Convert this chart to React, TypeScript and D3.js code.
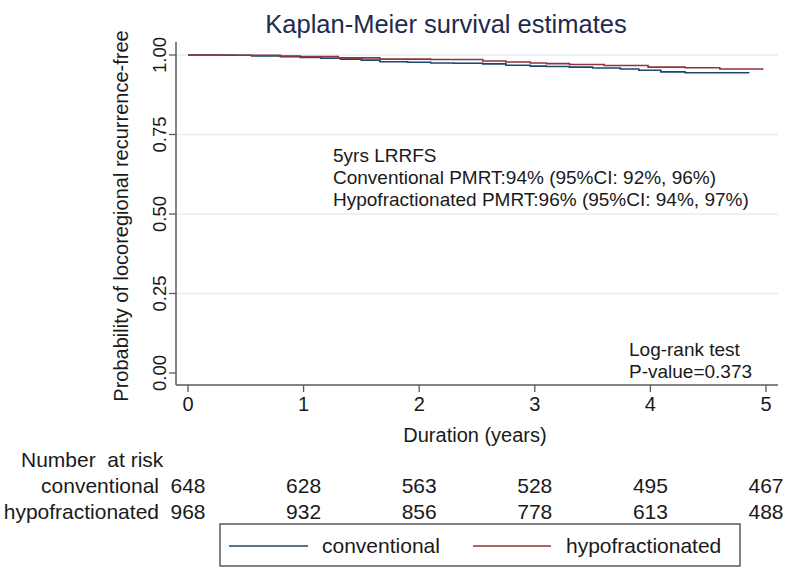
import React from "react";
import * as d3 from "d3";

const convTime = [0, 0.3, 0.55, 0.8, 0.97, 1.15, 1.32, 1.5, 1.66, 1.9, 2.1, 2.3, 2.55, 2.75, 2.96, 3.1, 3.3, 3.5, 3.74, 3.9, 4.09, 4.3, 4.85];
const convSurv = [1.0, 0.999, 0.997, 0.995, 0.992, 0.99, 0.987, 0.984, 0.979, 0.977, 0.975, 0.974, 0.972, 0.968, 0.965, 0.964, 0.962, 0.959, 0.956, 0.952, 0.947, 0.944, 0.943];
const hypoTime = [0, 0.4, 0.8, 0.97, 1.3, 1.66, 2.1, 2.55, 2.75, 2.96, 3.1, 3.3, 3.6, 3.98, 4.3, 4.6, 4.97];
const hypoSurv = [1.0, 0.999, 0.997, 0.995, 0.991, 0.987, 0.986, 0.981, 0.978, 0.975, 0.973, 0.97, 0.967, 0.962, 0.96, 0.956, 0.953];

const xTicks = [0, 1, 2, 3, 4, 5];
const yTicks = [0, 0.25, 0.5, 0.75, 1.0];
const riskConv = [648, 628, 563, 528, 495, 467];
const riskHypo = [968, 932, 856, 778, 613, 488];
const annotLines = [
  "5yrs LRRFS",
  "Conventional PMRT:94% (95%CI: 92%, 96%)",
  "Hypofractionated PMRT:96% (95%CI: 94%, 97%)",
];
const logRankLines = ["Log-rank test", "P-value=0.373"];

const BLUE = "#1a476f";
const RED = "#90353b";
const FONT = "'Liberation Sans', Arial, sans-serif";

export default function App() {
  const W = 787, H = 568;
  const x = d3.scaleLinear().domain([0, 5]).range([188, 766]);
  const y = d3.scaleLinear().domain([0, 1]).range([373, 55]);
  const line = d3
    .line<[number, number]>()
    .x((d) => x(d[0]))
    .y((d) => y(d[1]))
    .curve(d3.curveStepAfter);
  const conv: [number, number][] = convTime.map((t, i) => [t, convSurv[i]]);
  const hypo: [number, number][] = hypoTime.map((t, i) => [t, hypoSurv[i]]);
  const axisColor = "#5a5a5a";
  const txt = "#1a1a1a";

  return (
    <svg width={W} height={H} style={{ position: "absolute", left: 0, top: 0, background: "#fff" }} fontFamily={FONT}>
      <rect width={W} height={H} fill="#fff" />
      <text x={446} y={33} textAnchor="middle" fontSize={25.5} fill="#1e2a4f">
        Kaplan-Meier survival estimates
      </text>
      {/* grid */}
      {yTicks.filter((v) => v > 0).map((v) => (
        <line key={v} x1={177} x2={778} y1={y(v)} y2={y(v)} stroke="#e6eeee" strokeWidth={1.5} />
      ))}
      {/* axes */}
      <line x1={176} x2={176} y1={42} y2={385} stroke={axisColor} strokeWidth={1.5} />
      <line x1={176} x2={778} y1={385} y2={385} stroke={axisColor} strokeWidth={1.5} />
      {yTicks.map((v) => (
        <g key={v}>
          <line x1={169} x2={176} y1={y(v)} y2={y(v)} stroke={axisColor} strokeWidth={1.3} />
          <text transform={`translate(${166},${y(v)}) rotate(-90)`} textAnchor="middle" fontSize={18.5} fill={txt}>
            {v.toFixed(2)}
          </text>
        </g>
      ))}
      {xTicks.map((v) => (
        <g key={v}>
          <line x1={x(v)} x2={x(v)} y1={385} y2={392} stroke={axisColor} strokeWidth={1.3} />
          <text x={x(v)} y={411} textAnchor="middle" fontSize={20} fill={txt}>
            {v}
          </text>
        </g>
      ))}
      <text transform={`translate(${128},${216}) rotate(-90)`} textAnchor="middle" fontSize={20} fill={txt}>
        Probability of locoregional recurrence-free
      </text>
      <text x={475} y={442} textAnchor="middle" fontSize={20} fill={txt}>
        Duration (years)
      </text>
      {/* curves */}
      <path d={line(conv) || ""} fill="none" stroke={BLUE} strokeWidth={1.6} />
      <path d={line(hypo) || ""} fill="none" stroke={RED} strokeWidth={1.6} />
      {/* annotations */}
      {annotLines.map((s, i) => (
        <text key={s} x={333} y={162 + i * 22} fontSize={19} fill={txt}>
          {s}
        </text>
      ))}
      {logRankLines.map((s, i) => (
        <text key={s} x={629} y={356 + i * 22} fontSize={19} fill={txt}>
          {s}
        </text>
      ))}
      {/* number at risk */}
      <text x={21} y={467} fontSize={21} fill={txt}>{"Number\u00a0 at risk"}</text>
      <text x={159} y={493} textAnchor="end" fontSize={21} fill={txt}>conventional</text>
      <text x={159} y={519} textAnchor="end" fontSize={21} fill={txt}>hypofractionated</text>
      {riskConv.map((n, i) => (
        <text key={"c" + i} x={x(xTicks[i])} y={493} textAnchor="middle" fontSize={21} fill={txt}>{n}</text>
      ))}
      {riskHypo.map((n, i) => (
        <text key={"h" + i} x={x(xTicks[i])} y={519} textAnchor="middle" fontSize={21} fill={txt}>{n}</text>
      ))}
      {/* legend */}
      <rect x={220} y={524} width={520} height={42} fill="#fff" stroke="#333" strokeWidth={1.2} />
      <line x1={229} x2={308} y1={546} y2={546} stroke={BLUE} strokeWidth={1.6} />
      <text x={322} y={553} fontSize={21} fill={txt}>conventional</text>
      <line x1={473} x2={551} y1={546} y2={546} stroke={RED} strokeWidth={1.6} />
      <text x={566} y={553} fontSize={21} fill={txt}>hypofractionated</text>
    </svg>
  );
}
